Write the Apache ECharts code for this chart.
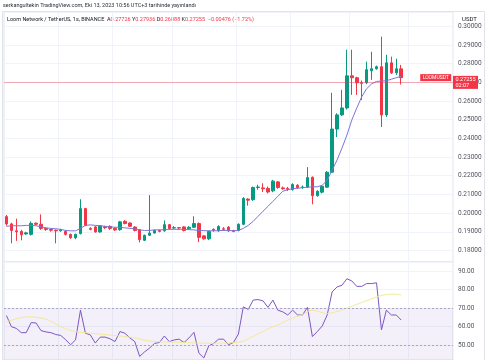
<!DOCTYPE html>
<html><head><meta charset="utf-8">
<script src="https://cdn.jsdelivr.net/npm/echarts@6/dist/echarts.min.js"></script>
<style>html,body{margin:0;padding:0;background:#fff}#c{width:485px;height:360px}</style>
</head><body><div id="c"></div>
<script>
// ---- data (1h candles, LOOM/USDT) ----
const opens  = [0.1981,0.1942,0.1905,0.1902,0.1888,0.1886,0.1946,0.1940,0.1918,0.1912,
0.1908,0.1905,0.1902,0.1886,0.1868,0.1890,0.2024,0.1918,0.1926,0.1899,
0.1926,0.1929,0.1918,0.1911,0.1956,0.1947,0.1925,0.1911,0.1854,0.1881,
0.1893,0.1907,0.1905,0.1938,0.1920,0.1922,0.1926,0.1916,0.1924,0.1944,
0.1878,0.1862,0.1913,0.1905,0.1916,0.1925,0.1907,0.1907,0.1940,0.2075,
0.2072,0.2137,0.2135,0.2132,0.2119,0.2167,0.2135,0.2132,0.2126,0.2149,
0.2137,0.2139,0.2192,0.2093,0.2112,0.2139,0.2219,0.2450,0.2526,0.2563,
0.2735,0.2725,0.2698,0.2698,0.2762,0.2773,0.2784,0.2526,0.2805,0.2751,0.27726];
const closes = [0.1942,0.1907,0.1900,0.1884,0.1894,0.1945,0.1940,0.1918,0.1912,0.1908,
0.1905,0.1910,0.1886,0.1868,0.1886,0.2024,0.1934,0.1913,0.1899,0.1932,
0.1922,0.1918,0.1910,0.1953,0.1944,0.1929,0.1907,0.1858,0.1881,0.1893,
0.1907,0.1902,0.1938,0.1917,0.1922,0.1920,0.1907,0.1924,0.1944,0.1870,
0.1862,0.1902,0.1908,0.1928,0.1913,0.1904,0.1902,0.1940,0.2078,0.2069,
0.2137,0.2140,0.2130,0.2113,0.2171,0.2137,0.2130,0.2127,0.2153,0.2137,
0.2140,0.2190,0.2093,0.2117,0.2144,0.2219,0.2450,0.2526,0.2563,0.2735,
0.2725,0.2698,0.2695,0.2768,0.2773,0.2784,0.2526,0.2805,0.2751,0.27731,0.27255];
const lows   = [0.1932,0.1838,0.1851,0.1854,0.1884,0.1880,0.1935,0.1910,0.1905,0.1900,
0.1838,0.1900,0.1880,0.1862,0.1860,0.1886,0.1930,0.1908,0.1895,0.1895,
0.1915,0.1910,0.1905,0.1905,0.1940,0.1925,0.1902,0.1843,0.1850,0.1878,
0.1890,0.1897,0.1900,0.1912,0.1915,0.1915,0.1902,0.1912,0.1920,0.1845,
0.1858,0.1855,0.1900,0.1900,0.1905,0.1900,0.1897,0.1902,0.1935,0.2040,
0.2065,0.2125,0.2113,0.2105,0.2112,0.2130,0.2125,0.2118,0.2120,0.2130,
0.2130,0.2135,0.2047,0.2088,0.2105,0.2135,0.2215,0.2407,0.2520,0.2555,
0.2633,0.2633,0.2606,0.2690,0.2714,0.2768,0.2461,0.2515,0.2745,0.2740,0.26888];
const highs  = [0.1990,0.1948,0.1970,0.1910,0.1900,0.1955,0.1950,0.1993,0.1922,0.1916,
0.1912,0.1915,0.1908,0.1890,0.1890,0.2074,0.2028,0.1924,0.1930,0.1935,
0.1932,0.1934,0.1922,0.1958,0.1962,0.1950,0.1930,0.1915,0.1885,0.2096,
0.1912,0.1912,0.1961,0.1942,0.1930,0.1925,0.1930,0.1930,0.1983,0.1950,
0.1880,0.1906,0.1918,0.1935,0.1925,0.1930,0.1910,0.1945,0.2085,0.2080,
0.2142,0.2152,0.2160,0.2142,0.2178,0.2172,0.2142,0.2140,0.2160,0.2155,
0.2148,0.2246,0.2196,0.2122,0.2150,0.2225,0.2644,0.2535,0.2660,0.2875,
0.2875,0.2730,0.2710,0.2811,0.2864,0.2790,0.2945,0.2848,0.2838,0.2827,0.27936];
const maValues = [0.1929,0.1932,0.1932,0.1932,0.1934,0.1934,0.1932,0.1926,0.1921,0.1918,
0.1916,0.1913,0.1907,0.1905,0.1905,0.1918,0.1934,0.1937,0.1934,0.1932,
0.1929,0.1926,0.1924,0.1924,0.1921,0.1918,0.1916,0.1910,0.1907,0.1907,
0.1910,0.1910,0.1911,0.1913,0.1913,0.1913,0.1913,0.1911,0.1910,0.1907,
0.1906,0.1905,0.1905,0.1906,0.1907,0.1907,0.1905,0.1907,0.1918,0.1934,
0.1956,0.1983,0.2010,0.2036,0.2063,0.2090,0.2117,0.2125,0.2131,0.2133,
0.2136,0.2139,0.2140,0.2141,0.2149,0.2176,0.2230,0.2284,0.2348,0.2418,
0.2499,0.2563,0.2623,0.2666,0.2692,0.2705,0.2707,0.2709,0.2717,0.2725,0.2733];
const rsiValues = [66,60.0,59.1,56.8,56.8,62.2,62.0,57.9,57.2,56.8,
55.8,55.3,53.0,50.3,52.9,68.9,56.5,55.6,51.2,54.4,
54.4,53.5,52.0,57.4,56.5,54.0,52.0,44.0,46.5,48.5,
51.0,51.5,55.0,52.0,52.9,53.3,51.5,54.0,57.0,45.8,
43.2,49.7,51.0,53.3,53.3,50.3,51.5,56.0,70.7,69.3,
74.3,74.6,73.9,70.4,74.3,68.9,68.0,66.3,68.9,66.3,
66.3,70.4,54.7,57.4,60.4,66.3,78.7,81.4,82.3,85.8,
84.6,81.7,81.7,83.2,83.2,83.6,58.3,68.9,66.3,66.3,63.6];
const rsiMaValues = [62.7,63.5,64.3,64.9,65.2,65.3,65.0,64.6,64.0,63.0,
61.5,60.0,59.0,58.0,57.4,57.0,56.8,56.5,56.3,56.0,
55.8,55.5,55.2,55.0,54.7,54.4,54.0,53.5,52.8,52.3,
52.0,51.9,51.8,51.8,51.7,51.6,51.5,51.4,51.3,51.2,
51.1,51.1,51.1,51.2,51.2,51.3,51.5,51.8,52.3,53.5,
54.8,56.2,57.5,58.8,60.0,61.0,62.2,63.5,64.6,65.6,
66.6,67.8,68.9,68.3,67.6,67.1,67.5,68.2,69.0,70.0,
71.0,72.0,73.0,74.0,75.0,76.0,76.8,77.3,77.5,77.5,77.0];
const futureSlots = 10;
const countdownText = '02:07';
const symbolTag = 'LOOMUSDT';
const headerText = 'serkangultekin TradingView.com, Eki 13, 2023 10:56 UTC+3 tarihinde yayınlandı';
const symbolName = 'Loom Network / TetherUS, 1s, BINANCE';
const rsiBandLevels = [30, 70];
const rsiDashedLevels = [70, 50];
const vGridIdx = [11, 22, 34, 47, 58, 70, 82];

// categories: hourly stamps
const categories = [];
const start = Date.UTC(2023, 9, 9, 18);
for (let i = 0; i < opens.length + futureSlots; i++) {
  const d = new Date(start + i * 3600000);
  categories.push(d.getUTCDate() + ' ' + String(d.getUTCHours()).padStart(2, '0') + ':00');
}
const candleData = opens.map((o, i) => [o, closes[i], lows[i], highs[i]]);
const n = opens.length;
const lastO = opens[n-1], lastH = highs[n-1], lastL = lows[n-1], lastC = closes[n-1];
const prevClose = closes[n-2];
const chgAbs = lastC - prevClose;
const chgPct = chgAbs / prevClose * 100;

const FONT = 'Roboto, "Liberation Sans", Arial, sans-serif';
const RED = '#f23645', GREEN = '#089981';
const chart = echarts.init(document.getElementById('c'), null, {renderer: 'canvas'});
const priceMin = 0.1738, priceMax = 0.3077;
const rsiMin = 42.1, rsiMax = 94.8;

const fmt = v => v.toFixed(5);
const minus = v => (v < 0 ? '\u2212' : '+');

chart.setOption({
  animation: false,
  backgroundColor: '#ffffff',
  textStyle: {fontFamily: FONT},
  grid: [
    {left: 4, right: 32, top: 12, height: 250, show: true, borderColor: '#e0e3eb', borderWidth: 1},
    {left: 4, right: 32, top: 262, height: 100, show: true, borderColor: '#e0e3eb', borderWidth: 1}
  ],
  xAxis: [0, 1].map(g => ({
    type: 'category', gridIndex: g, data: categories, boundaryGap: true,
    axisLine: {show: false}, axisTick: {show: false}, axisLabel: {show: false},
    splitLine: {show: true, interval: (idx) => vGridIdx.indexOf(idx) >= 0, lineStyle: {color: '#f0f3fa', width: 1}}
  })),
  yAxis: [
    {type: 'value', gridIndex: 0, position: 'right', min: priceMin, max: priceMax, scale: true,
     splitNumber: 13, minInterval: 0.01, maxInterval: 0.01,
     axisLine: {show: false}, axisTick: {show: false},
     axisLabel: {color: '#50535e', fontSize: 6.5, margin: 5, showMinLabel: false, showMaxLabel: false, formatter: fmt, fontFamily: FONT},
     splitLine: {lineStyle: {color: '#f0f3fa'}}},
    {type: 'value', gridIndex: 1, position: 'right', min: rsiMin, max: rsiMax, scale: true,
     splitNumber: 5, minInterval: 10, maxInterval: 10,
     axisLine: {show: false}, axisTick: {show: false},
     axisLabel: {color: '#50535e', fontSize: 6.5, margin: 5, showMinLabel: false, showMaxLabel: false, formatter: v => v.toFixed(2), fontFamily: FONT},
     splitLine: {lineStyle: {color: '#f0f3fa'}}}
  ],
  series: [
    {
      type: 'candlestick', xAxisIndex: 0, yAxisIndex: 0, data: candleData, barWidth: 3,
      itemStyle: {color: GREEN, color0: RED, borderColor: GREEN, borderColor0: RED, borderWidth: 1},
      markLine: {
        silent: true, symbol: ['none', 'none'], animation: false,
        lineStyle: {color: 'rgba(242,54,69,0.4)', width: 1, type: 'solid', opacity: 1},
        label: {show: true, position: 'end', distance: 0, formatter: fmt(lastC) + '\n' + countdownText,
          backgroundColor: RED, color: '#fff', fontSize: 5.5, lineHeight: 6, padding: [0.5, 2.5, 0.5, 2.5], fontFamily: FONT, opacity: 1},
        emphasis: {disabled: true},
        data: [{yAxis: lastC}]
      },
      markPoint: {
        silent: true, animation: false, symbol: 'rect', symbolSize: [31, 7],
        itemStyle: {color: RED},
        label: {show: true, position: 'inside', formatter: symbolTag, color: '#fff', fontSize: 5, fontFamily: FONT},
        data: [{coord: [categories[n + 6], lastC]}]
      }
    },
    {type: 'line', xAxisIndex: 0, yAxisIndex: 0, data: maValues, showSymbol: false, smooth: false,
     lineStyle: {color: '#7b74dc', width: 1}, z: 3},
    {type: 'line', xAxisIndex: 1, yAxisIndex: 1, data: rsiValues, showSymbol: false,
     lineStyle: {color: '#7e57c2', width: 1},
     markArea: {silent: true, itemStyle: {color: 'rgba(126,87,194,0.09)'},
       data: [[{yAxis: rsiMin}, {yAxis: rsiBandLevels[1]}]]},
     markLine: {silent: true, symbol: ['none', 'none'], label: {show: false},
       lineStyle: {color: '#a9a4c8', type: [2, 2], width: 1},
       data: rsiDashedLevels.map(v => ({yAxis: v}))}},
    {type: 'line', xAxisIndex: 1, yAxisIndex: 1, data: rsiMaValues, showSymbol: false, smooth: true,
     lineStyle: {color: '#f3e98f', width: 1}}
  ],
  graphic: [
    {type: 'text', left: 3, top: 3, style: {text: headerText, fontSize: 5.5, fill: '#2a2e39', fontFamily: FONT}},
    {type: 'text', left: 7, top: 16.5, style: {
      text: '{d|' + symbolName + '  A}{r|' + fmt(lastO) + '}{d| Y}{r|' + fmt(lastH) + '}{d| D}{r|' + fmt(lastL) + '}{d| K}{r|' + fmt(lastC) + '  ' + minus(chgAbs) + Math.abs(chgAbs).toFixed(5) + ' (' + minus(chgPct) + Math.abs(chgPct).toFixed(2) + '%)}',
      rich: {d: {fontSize: 5.5, fill: '#131722', fontFamily: FONT}, r: {fontSize: 5.5, fill: RED, fontFamily: FONT}}
    }},
    {type: 'text', left: 462, top: 16.5, style: {text: 'USDT', fontSize: 6, fill: '#131722', fontFamily: FONT}},
    {type: 'rect', shape: {x: 2.5, y: 11.5, width: 482, height: 352}, style: {fill: 'none', stroke: '#e0e3eb', lineWidth: 1}, silent: true}
  ]
});
</script></body></html>
